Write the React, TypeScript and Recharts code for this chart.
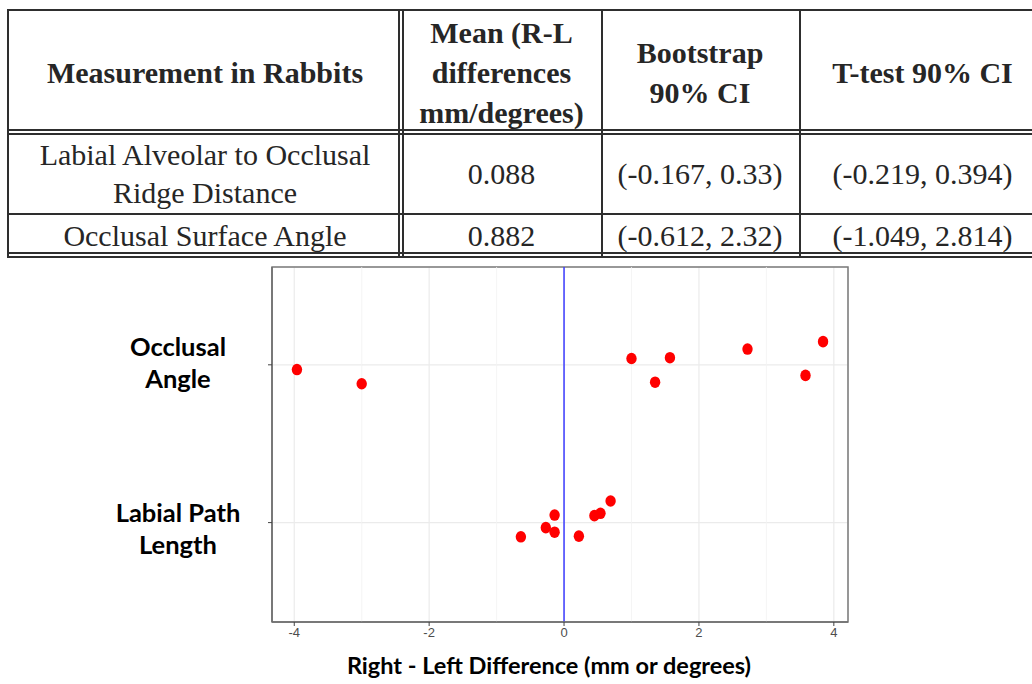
import React from "react"
import {
    ScatterChart,
    Scatter,
    XAxis,
    YAxis,
    CartesianGrid,
    ReferenceLine,
    ReferenceArea,
} from "recharts"

// table contents
const tableHeaders = ["Measurement in Rabbits", "Mean (R-L\ndifferences\nmm/degrees)", "Bootstrap\n90% CI", "T-test 90% CI"]
const measurementNames = ["Labial Alveolar to Occlusal\nRidge Distance", "Occlusal Surface Angle"]
const meanDiffs = ["0.088", "0.882"]
const bootstrapCI = ["(-0.167, 0.33)", "(-0.612, 2.32)"]
const tTestCI = ["(-0.219, 0.394)", "(-1.049, 2.814)"]

// scatter data: right - left differences, with vertical jitter
const occlusalDiff = [-3.96, -3.0, 1.0, 1.35, 1.57, 2.72, 3.58, 3.84]
const occlusalJitter = [-0.03, -0.12, 0.04, -0.11, 0.045, 0.1, -0.067, 0.147]
const labialDiff = [-0.64, -0.27, -0.14, -0.14, 0.22, 0.45, 0.54, 0.69]
const labialJitter = [-0.09, -0.032, 0.048, -0.061, -0.086, 0.044, 0.059, 0.137]

const categoryLabels: Record<number, string[]> = {
    1: ["Labial Path", "Length"],
    2: ["Occlusal", "Angle"],
}
const categoryTicks = [1, 2]
const xTicks = [-4, -2, 0, 2, 4]
const xMinor = [-3, -1, 1, 3]
const xDomain = [-4.33, 4.21]
const yDomain = [0.37, 2.62]

const occlusalData = occlusalDiff.map((d, i) => ({ x: d, y: 2 + occlusalJitter[i] }))
const labialData = labialDiff.map((d, i) => ({ x: d, y: 1 + labialJitter[i] }))

const cols = [8, 402, 601, 799, 1046]
const rows = [10, 133, 213, 253]
const lineColor = "#2e2e2e"

function Line({ x, y, w, h }: { x: number; y: number; w: number; h: number }) {
    return <div style={{ position: "absolute", left: x, top: y, width: w, height: h, background: lineColor }} />
}

function Cell({ c, r, text, bold, pad = 0 }: { c: number; r: number; text: string; bold?: boolean; pad?: number }) {
    return (
        <div
            style={{
                position: "absolute",
                left: cols[c],
                top: rows[r] + pad,
                width: cols[c + 1] - cols[c],
                height: rows[r + 1] - rows[r],
                display: "flex",
                alignItems: "center",
                justifyContent: "center",
                textAlign: "center",
                whiteSpace: "pre-line",
                fontFamily: "'Liberation Serif', serif",
                fontWeight: bold ? 700 : 400,
                fontSize: 30,
                lineHeight: bold ? "40px" : "38px",
                color: "#262626",
            }}
        >
            {text}
        </div>
    )
}

const YTick = ({ x, y, payload }: any) => {
    const lines = categoryLabels[payload.value] || []
    const first = payload.value === 2 ? -9 : -1
    return (
        <g>
            {lines.map((l, i) => (
                <text
                    key={i}
                    x={x - 88}
                    y={y + first + i * 32}
                    textAnchor="middle"
                    fontFamily="Lato, 'Open Sans', sans-serif"
                    fontWeight={700}
                    fontSize={25.5}
                    fill="#000"
                >
                    {l}
                </text>
            ))}
        </g>
    )
}

const XTitle = ({ viewBox }: any) => (
    <text
        x={viewBox.x + viewBox.width / 2 - 11}
        y={viewBox.y + viewBox.height - 10}
        textAnchor="middle"
        fontFamily="Lato, 'Open Sans', sans-serif"
        fontWeight={700}
        fontSize={23.5}
        fill="#000"
    >
        Right - Left Difference (mm or degrees)
    </text>
)

const Dot = (props: any) => <ellipse cx={props.cx} cy={props.cy} rx={5.2} ry={5.8} fill="#ff0000" />

export default function App() {
    return (
        <div style={{ position: "absolute", left: 0, top: 0, width: 1032, height: 684, overflow: "hidden", background: "#fff" }}>
            {/* table */}
            <Line x={7} y={9} w={1040} h={2} />
            <Line x={7} y={129} w={1040} h={1.5} />
            <Line x={7} y={133} w={1040} h={1.5} />
            <Line x={7} y={213} w={1040} h={1.5} />
            <Line x={7} y={252} w={1040} h={2} />
            <Line x={7} y={256} w={1040} h={1.5} />
            <Line x={7} y={9} w={2} h={249} />
            <Line x={398} y={9} w={1.5} h={249} />
            <Line x={402} y={9} w={1.5} h={249} />
            <Line x={601} y={9} w={1.5} h={249} />
            <Line x={799} y={9} w={1.5} h={249} />
            {tableHeaders.map((h, i) => (
                <Cell key={"h" + i} c={i} r={0} text={h} bold pad={1} />
            ))}
            {measurementNames.map((m, r) => (
                <React.Fragment key={"r" + r}>
                    <Cell c={0} r={r + 1} text={m} pad={r === 1 ? 3 : 1} />
                    <Cell c={1} r={r + 1} text={meanDiffs[r]} pad={r === 1 ? 3 : 1} />
                    <Cell c={2} r={r + 1} text={bootstrapCI[r]} pad={r === 1 ? 3 : 1} />
                    <Cell c={3} r={r + 1} text={tTestCI[r]} pad={r === 1 ? 3 : 1} />
                </React.Fragment>
            ))}

            {/* chart */}
            <div style={{ position: "absolute", left: 0, top: 258 }}>
                <ScatterChart width={1032} height={426} margin={{ top: 9, right: 184, bottom: 0, left: 0 }}>
                    <CartesianGrid stroke="#ebebeb" strokeWidth={1.2} />
                    {xMinor.map((v) => (
                        <ReferenceLine key={v} x={v} stroke="#f2f2f2" strokeWidth={0.8} />
                    ))}
                    <XAxis
                        type="number"
                        dataKey="x"
                        domain={xDomain}
                        ticks={xTicks}
                        allowDataOverflow
                        height={62}
                        tickSize={4}
                        tickMargin={2}
                        stroke="#666"
                        tick={{ fill: "#4d4d4d", fontSize: 13, fontFamily: "'Liberation Sans', Arial, sans-serif" }}
                        axisLine={{ stroke: "#6e6e6e", strokeWidth: 1.5 }}
                        tickLine={{ stroke: "#444" }}
                        label={<XTitle />}
                    />
                    <YAxis
                        type="number"
                        dataKey="y"
                        domain={yDomain}
                        ticks={categoryTicks}
                        allowDataOverflow
                        width={272}
                        tickSize={4}
                        tickMargin={2}
                        axisLine={{ stroke: "#6e6e6e", strokeWidth: 1.5 }}
                        tickLine={{ stroke: "#444" }}
                        tick={<YTick />}
                    />
                    <ReferenceArea
                        x1={xDomain[0]}
                        x2={xDomain[1]}
                        y1={yDomain[0]}
                        y2={yDomain[1]}
                        fill="none"
                        stroke="#7a7a7a"
                        strokeWidth={1.5}
                    />
                    <ReferenceLine x={0} stroke="#3c3cff" strokeWidth={1.5} />
                    <Scatter data={occlusalData} shape={<Dot />} isAnimationActive={false} />
                    <Scatter data={labialData} shape={<Dot />} isAnimationActive={false} />
                </ScatterChart>
            </div>
        </div>
    )
}
